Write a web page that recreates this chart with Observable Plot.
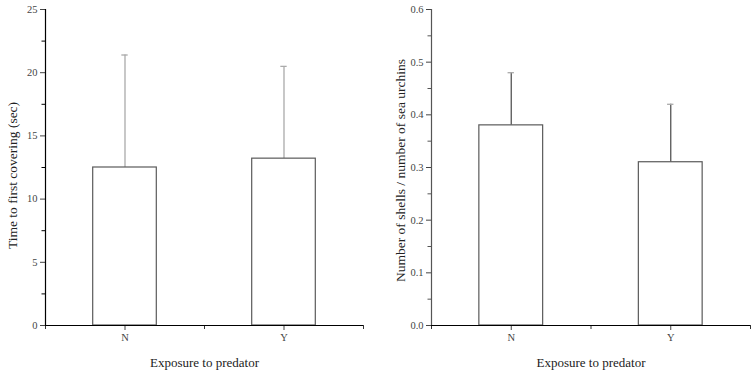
<!DOCTYPE html>
<html>
<head>
<meta charset="utf-8">
<script src="https://cdn.jsdelivr.net/npm/d3@7"></script>
<script src="https://cdn.jsdelivr.net/npm/@observablehq/plot@0.6"></script>
<style>
  html, body { margin: 0; padding: 0; background: #fff; }
  #wrap { display: flex; width: 756px; height: 374px; }
</style>
</head>
<body>
<div id="wrap"></div>
<script>
const categories = ["N", "Y"];
const xLabel = "Exposure to predator";

const timeMean = [12.5, 13.2];
const timeUpper = [21.4, 20.5];
const timeTicks = [0, 5, 10, 15, 20, 25];
const timeMinorTicks = [2.5, 7.5, 12.5, 17.5, 22.5];
const timeLabel = "Time to first covering (sec)";

const shellMean = [0.38, 0.31];
const shellUpper = [0.48, 0.42];
const shellTicks = [0, 0.1, 0.2, 0.3, 0.4, 0.5, 0.6];
const shellMinorTicks = [0.05, 0.15, 0.25, 0.35, 0.45, 0.55];
const shellLabel = "Number of shells / number of sea urchins";

function panel({mean, upper, ticks, minor, label, fmt, marginLeft, marginRight, labelDx, labelDy, errColor, axisColor}) {
  const rows = categories.map((c, i) => ({c, i, pos: i + 0.5, mean: mean[i], upper: upper[i]}));
  const boundaries = d3.range(categories.length + 1);
  return Plot.plot({
    width: 378,
    height: 374,
    marginTop: 9,
    marginBottom: 49,
    marginLeft,
    marginRight,
    style: {fontFamily: "'Liberation Serif', 'Times New Roman', serif", fontSize: "10.5px", color: "#333", background: "#fff"},
    x: {domain: [0, categories.length]},
    y: {domain: [ticks[0], ticks[ticks.length - 1]]},
    marks: [
      Plot.ruleX(rows, {x: "pos", y1: "mean", y2: "upper", stroke: errColor, strokeWidth: 1.3}),
      Plot.ruleY(rows, {y: "upper", x1: d => d.pos - 0.02, x2: d => d.pos + 0.02, stroke: "#aaa", strokeWidth: 1.3}),
      Plot.rectY(rows, {x1: d => d.i + 0.3, x2: d => d.i + 0.7, y1: 0, y2: "mean", fill: "#fff", stroke: "#5a5a5a", strokeWidth: 1.2}),
      Plot.axisY({ticks: minor, tickSize: 3.5, tickFormat: () => "", label: null, stroke: axisColor}),
      Plot.axisY({ticks, tickSize: 5, tickPadding: 3, tickFormat: fmt, label: null, fontSize: 10.5, color: "#444"}),
      Plot.axisX({ticks: boundaries, tickSize: 4, tickFormat: () => "", label: null}),
      Plot.axisX({ticks: rows.map(d => d.pos), tickSize: 5, tickPadding: 3, tickFormat: d => categories[Math.round(d - 0.5)], label: null, fontSize: 10.5, color: "#444"}),
      Plot.text([label], {text: d => d, frameAnchor: "left", rotate: -90, dx: labelDx, dy: labelDy, fontSize: 13.5, fill: "#222", textAnchor: "middle", lineAnchor: "middle"}),
      Plot.text([xLabel], {text: d => d, frameAnchor: "bottom", dy: 37, fontSize: 13, fill: "#222", textAnchor: "middle", lineAnchor: "middle"}),
      Plot.ruleX([0], {stroke: axisColor, strokeWidth: 1.2}),
      Plot.ruleY([0], {stroke: "#000", strokeWidth: 1.2})
    ]
  });
}

const wrap = document.getElementById("wrap");
wrap.appendChild(panel({mean: timeMean, upper: timeUpper, ticks: timeTicks, minor: timeMinorTicks, label: timeLabel, fmt: d3.format("d"), marginLeft: 45, marginRight: 15, labelDx: -33, labelDy: 8, errColor: "#aaa", axisColor: "#000"}));
wrap.appendChild(panel({mean: shellMean, upper: shellUpper, ticks: shellTicks, minor: shellMinorTicks, label: shellLabel, fmt: d3.format(".1f"), marginLeft: 53, marginRight: 6, labelDx: -31, labelDy: 3, errColor: "#555", axisColor: "#555"}));
</script>
</body>
</html>
